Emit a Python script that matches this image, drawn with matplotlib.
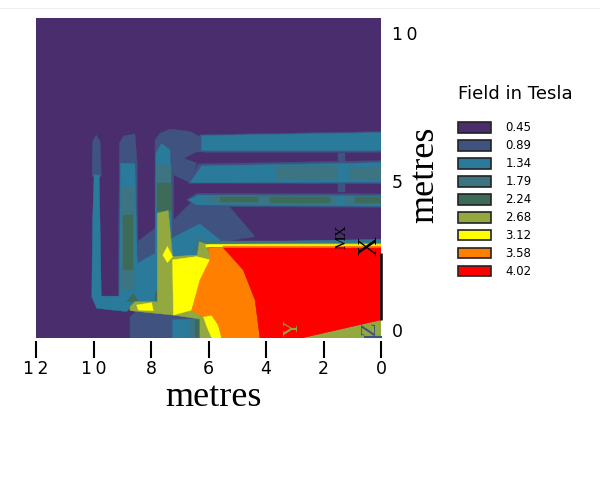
import matplotlib
matplotlib.use("Agg")
import matplotlib.pyplot as plt
from matplotlib.lines import Line2D
from matplotlib.patches import Patch
from matplotlib.transforms import ScaledTranslation

# contour levels of the field plot
levels = ["0.45", "0.89", "1.34", "1.79", "2.24", "2.68", "3.12", "3.58", "4.02"]
colors = ["#4a2d6c", "#3f5280", "#2a7a9b", "#3c7482", "#3d6b58",
          "#93a83e", "#ffff00", "#ff8000", "#ff0000"]

x_ticks = [12, 10, 8, 6, 4, 2, 0]
x_tick_labels = ["1\u20092", "1\u20090", "8", "6", "4", "2", "0"]
y_ticks = [0, 5, 10]
y_tick_labels = ["0", "5", "1\u20090"]

# regions, (metres along, metres up)
region_045 = [[(12, 0), (0, 0), (0, 10.77), (12, 10.77)]]
region_089 = [
    [(8.73, 0), (8.73, 0.72), (8.50, 0.89), (8.48, 3.24), (7.86, 3.69), (7.86, 6.67),
     (7.69, 6.89), (7.34, 7.03), (6.64, 6.95), (6.30, 6.78), (6.24, 6.33), (6.41, 5.88),
     (6.64, 5.23), (7.22, 5.49), (7.22, 3.97), (6.64, 4.53), (5.37, 4.53), (4.38, 3.41),
     (5.48, 3.24), (5.83, 2.29), (6.30, 0.61), (6.99, 0)],
    [(9.10, 6.55), (8.96, 6.80), (8.56, 6.87), (8.48, 5.88), (8.44, 1.22), (9.14, 1.22)],
    [(10.03, 6.61), (9.91, 6.84), (9.77, 6.61), (9.73, 5.43), (10.05, 5.43)],
    [(6.30, 6.84), (0, 6.95), (0, 6.25), (6.30, 6.25)],
    [(6.70, 5.21), (6.35, 5.86), (0, 5.97), (0, 5.19)],
    [(6.76, 4.65), (6.41, 4.87), (0, 4.85), (0, 4.40), (6.41, 4.42)],
    [(1.48, 6.22), (1.25, 6.22), (1.25, 5.94), (1.48, 5.94)],
    [(1.48, 5.21), (1.25, 5.21), (1.25, 4.93), (1.48, 4.93)],
]
notch_045 = [(6.82, 6.05), (6.41, 6.25), (6.20, 6.25), (6.20, 5.97), (6.41, 5.90)]
region_134 = [
    [(6.24, 6.81), (0, 6.91), (0, 6.31), (6.24, 6.31)],
    [(6.64, 5.23), (6.24, 5.79), (0, 5.90), (0, 5.25)],
    [(6.70, 4.65), (6.35, 4.81), (0, 4.78), (0, 4.44), (6.41, 4.48)],
    [(9.98, 5.49), (9.80, 5.49), (9.73, 1.41), (9.10, 1.41), (9.06, 5.88), (8.56, 5.88),
     (8.48, 2.51), (7.86, 2.85), (7.83, 6.22), (7.63, 6.55), (7.34, 6.33), (7.28, 3.36),
     (6.30, 3.84), (5.60, 3.30), (6.01, 3.02), (7.22, 1.73), (7.69, 1.22), (8.48, 1.22),
     (8.85, 0.89), (9.89, 1.00), (10.06, 1.39), (10.03, 3.97)],
    [(7.25, 0), (7.25, 0.61), (6.30, 0.66), (6.30, 0)],
    [(6.01, 3.21), (0, 3.32), (0, 3.16), (6.01, 3.08)],
]
region_179 = [
    [(3.63, 5.77), (1.54, 5.79), (1.54, 5.34), (3.63, 5.34)],
    [(1.08, 5.71), (0, 5.77), (0, 5.32), (1.08, 5.34)],
    [(6.24, 4.65), (5.60, 4.78), (1.54, 4.76), (1.54, 4.51), (5.60, 4.51)],
    [(1.25, 4.76), (0, 4.74), (0, 4.51), (1.25, 4.51)],
    [(9.02, 5.04), (8.59, 5.04), (8.59, 1.62), (9.02, 1.62)],
    [(7.83, 5.82), (7.32, 5.82), (7.32, 4.25), (7.78, 4.25)],
    [(6.18, 3.28), (0, 3.28), (0, 3.16), (6.18, 3.16)],
    [(6.47, 3.13), (6.30, 3.41), (6.06, 3.24), (6.06, 2.91), (6.47, 2.85)],
    [(6.64, 0), (6.64, 0.61), (6.30, 0.66), (6.30, 0)],
]
region_224 = [
    [(8.99, 4.14), (8.61, 4.14), (8.61, 2.29), (8.99, 2.29)],
    [(7.80, 5.21), (7.32, 5.21), (7.32, 4.29), (7.78, 4.29)],
    [(5.60, 4.74), (4.27, 4.74), (4.27, 4.58), (5.60, 4.58)],
    [(3.86, 4.76), (1.77, 4.76), (1.77, 4.56), (3.86, 4.56)],
    [(0.90, 4.74), (0, 4.74), (0, 4.56), (0.90, 4.56)],
    [(7.86, 1.50), (7.69, 1.73), (7.69, 1.19), (7.86, 1.19)],
    [(8.85, 1.22), (8.61, 1.50), (8.44, 1.22)],
    [(6.47, 0.61), (6.30, 0.61), (6.30, 0), (6.47, 0)],
]
region_268 = [
    [(7.78, 4.20), (7.40, 4.29), (7.25, 2.74), (6.39, 2.79), (6.32, 3.24), (6.09, 3.16),
     (5.95, 2.74), (5.83, 0.61), (6.30, 0.64), (7.22, 0.77), (8.73, 0.92), (8.73, 1.05),
     (8.56, 1.22), (7.78, 1.22)],
    [(6.30, 0), (6.30, 0.64), (6.18, 0.72), (6.06, 0.38), (5.89, 0)],
    [(2.76, 0), (0, 0.61), (0, 0)],
    [(6.01, 3.16), (0, 3.19), (0, 3.12), (6.01, 3.10)],
]
region_312 = [
    [(7.25, 2.63), (6.41, 2.74), (5.95, 2.63), (6.59, 0.94), (7.22, 0.77)],
    [(7.59, 2.79), (7.43, 3.08), (7.25, 2.74), (7.43, 2.54)],
    [(8.50, 1.11), (7.98, 1.19), (7.92, 0.92), (8.44, 0.94)],
    [(6.18, 0.72), (5.89, 0.77), (5.66, 0.44), (5.54, 0), (5.89, 0), (6.06, 0.38)],
    [(6.09, 3.15), (0, 3.15), (0, 3.09), (6.09, 3.06)],
    [(3.34, 3.10), (2.99, 3.10), (3.17, 2.99)],
]
region_358 = [
    [(6.01, 3.02), (5.48, 3.05), (4.79, 2.29), (4.38, 1.28), (4.21, 0), (5.54, 0),
     (5.66, 0.44), (5.89, 0.77), (6.18, 0.72), (6.59, 0.92), (6.30, 1.95), (5.95, 2.63)],
    [(5.48, 3.09), (0, 3.09), (0, 3.03), (5.48, 3.03)],
]
region_402 = [
    [(5.48, 3.03), (0, 3.03), (0, 0.61), (2.76, 0), (4.21, 0), (4.38, 1.28), (4.79, 2.29)],
]
regions = [region_045, region_089, region_134, region_179, region_224,
           region_268, region_312, region_358, region_402]

# edge of the model and the triad letters
edge_x = [0, 0]
edge_y = [0.61, 2.85]
z_bar_x = [0.55, 0]
z_bar_y = [0.03, 0.03]
triad_labels = ["MX", "X", "Y", "Z"]
triad_x = [1.37, 0.38, 3.05, 0.38]
triad_y = [3.41, 3.10, 0.33, 0.33]
triad_colors = ["black", "black", "#93a83e", "#3f5280"]
triad_sizes = [11, 20, 16, 16]

fig = plt.figure(figsize=(6, 4.91), dpi=100)
ax = fig.add_axes([36 / 600, (491 - 338) / 491, 345 / 600, 320 / 491])

for region, color in zip(regions, colors):
    for poly in region:
        ax.fill(*zip(*poly), color=color, lw=0.3)
    if region is region_089:
        ax.fill(*zip(*notch_045), color=colors[0], lw=0.3)

ax.plot(edge_x, edge_y, color="black", lw=1.8, clip_on=False, solid_capstyle="butt")
ax.plot(z_bar_x, z_bar_y, color=colors[1], lw=1.5, clip_on=False)
for name, tx, ty, c, s in zip(triad_labels, triad_x, triad_y, triad_colors, triad_sizes):
    ax.text(tx, ty, name, color=c, fontsize=s, rotation=90, ha="center", va="center",
            family="Liberation Serif")

ax.set_xlim(12, 0)
ax.set_ylim(0, 10.77)
for side in ax.spines.values():
    side.set_visible(False)
ax.spines["bottom"].set_position(("outward", 2.2))

ax.set_xticks(x_ticks)
ax.set_xticklabels(x_tick_labels)
ax.set_yticks(y_ticks)
ax.set_yticklabels(y_tick_labels)
ax.yaxis.tick_right()
ax.tick_params(axis="x", length=12, width=1.5, pad=2, labelsize=12.5)
ax.tick_params(axis="y", length=0, pad=8, labelsize=12.5)
for lab in ax.get_yticklabels():
    lab.set_transform(lab.get_transform() + ScaledTranslation(0, 8 / 100, fig.dpi_scale_trans))

ax.set_xlabel("metres", family="Liberation Serif", fontsize=26, va="center")
ax.xaxis.set_label_coords(0.513, -0.187)
ax.yaxis.set_label_position("right")
ax.set_ylabel("metres", family="Liberation Serif", fontsize=26, va="center", rotation=90)
ax.yaxis.set_label_coords(1.128, 0.51)

handles = [Patch(facecolor=c, edgecolor="#222222", lw=1.2) for c in colors]
leg = fig.legend(handles, levels, title="Field in Tesla", title_fontsize=13, fontsize=8.5,
                 frameon=False, alignment="left", loc="upper left",
                 bbox_to_anchor=(453 / 600, 1 - 80 / 491), handlelength=2.85, handleheight=1.0,
                 handletextpad=1.2, labelspacing=0.42, borderpad=0.4, borderaxespad=0)
leg._legend_box.sep = 13.5

fig.add_artist(Line2D([0, 1], [1 - 8 / 491, 1 - 8 / 491], color="#eeeeee", lw=0.8))

fig.savefig("out.png", dpi=100)
